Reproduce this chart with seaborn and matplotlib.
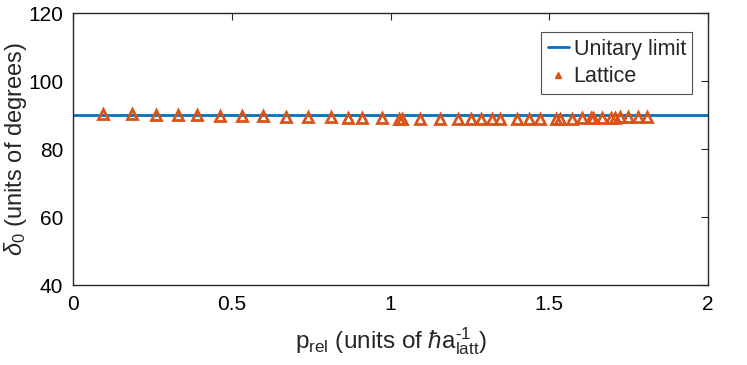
import numpy as np
import pandas as pd
import seaborn as sns
import matplotlib
matplotlib.use('Agg')
import matplotlib.pyplot as plt
from matplotlib.lines import Line2D

# data
p_rel = [0.093, 0.186, 0.261, 0.330, 0.390, 0.462, 0.531, 0.597, 0.670, 0.739,
         0.811, 0.865, 0.909, 0.972, 1.028, 1.035, 1.094, 1.157, 1.211, 1.252,
         1.286, 1.318, 1.343, 1.399, 1.437, 1.472, 1.522, 1.535, 1.572, 1.604,
         1.632, 1.638, 1.667, 1.695, 1.708, 1.723, 1.748, 1.780, 1.808]
delta0 = [90.3, 90.2, 90.1, 90.0, 89.9, 89.8, 89.7, 89.6, 89.5, 89.4,
          89.3, 89.2, 89.2, 89.1, 89.0, 89.0, 89.0, 88.9, 88.9, 88.9,
          88.9, 88.9, 88.9, 88.9, 88.9, 88.9, 89.0, 89.0, 89.0, 89.1,
          89.1, 89.1, 89.2, 89.2, 89.2, 89.3, 89.3, 89.4, 89.4]
unitary_x = [0, 2]
unitary_y = [90, 90]

df = pd.DataFrame({'p': p_rel, 'd': delta0})
df_u = pd.DataFrame({'p': unitary_x, 'd': unitary_y})

sns.set_style('white')
plt.rcParams['font.family'] = ['Liberation Sans', 'DejaVu Sans']
plt.rcParams['mathtext.fontset'] = 'custom'
plt.rcParams['mathtext.rm'] = 'Liberation Sans'
plt.rcParams['mathtext.it'] = 'Liberation Sans:italic'
plt.rcParams['mathtext.bf'] = 'Liberation Sans:bold'

fig = plt.figure(figsize=(7.47, 3.65), dpi=100)
ax = fig.add_axes([0.0977, 0.219, 0.8503, 0.745])

sns.lineplot(data=df_u, x='p', y='d', ax=ax, color='#0072BD', lw=2,
             label='Unitary limit')
ax.plot(df['p'], df['d'], ls='none', marker='^', ms=6.5, mfc='none',
        mec='#D95319', mew=2, label='Lattice')

ax.set_xlim(0, 2)
ax.set_ylim(40, 120)
ax.set_xticks([0, 0.5, 1, 1.5, 2])
ax.set_xticklabels(['0', '0.5', '1', '1.5', '2'])
ax.set_yticks([40, 60, 80, 100, 120])
ax.tick_params(direction='in', top=True, right=True, length=5, width=0.8,
               labelsize=15, colors='#262626', labelcolor='black', pad=7)
for s in ax.spines.values():
    s.set_color('#262626')
    s.set_linewidth(1.0)

ax.set_xlabel(r'$\mathrm{p_{rel}}$ (units of $\hbar\mathrm{a_{latt}^{\text{-}1}}$)',
              fontsize=17.5, labelpad=8)
ax.set_ylabel(r'$\delta_0$ (units of degrees)', fontsize=17)
ax.yaxis.set_label_coords(-0.07, 0.5)

h2 = [Line2D([], [], color='#0072BD', lw=2),
      Line2D([], [], ls='none', marker='^', ms=5, color='#D95319')]
leg = ax.legend(h2, ['Unitary limit', 'Lattice'], loc='upper right',
                bbox_to_anchor=(0.975, 0.93), fontsize=15.5, frameon=True,
                fancybox=False, edgecolor='#262626', handlelength=1.0,
                handletextpad=0.2, borderpad=0.3, labelspacing=0.3,
                borderaxespad=0)
leg.get_frame().set_linewidth(0.8)

fig.savefig('out.png', dpi=100)
